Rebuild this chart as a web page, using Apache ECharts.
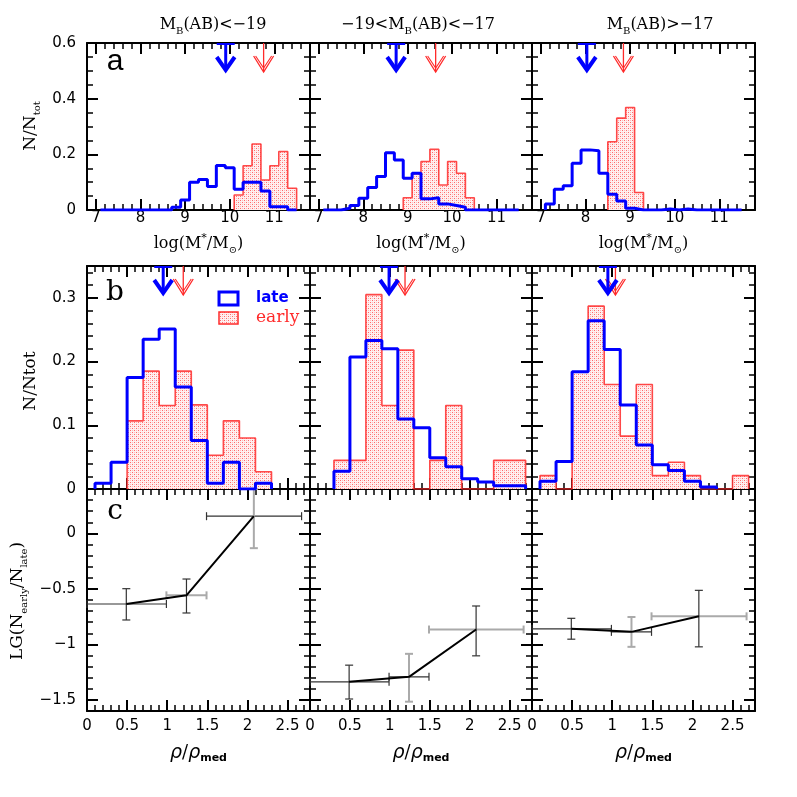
<!DOCTYPE html>
<html><head><meta charset="utf-8">
<script src="https://cdn.jsdelivr.net/npm/echarts@6/dist/echarts.min.js"></script>
<style>html,body{margin:0;padding:0;background:#fff}#c{width:797px;height:797px}</style>
</head><body><div id="c"></div>
<script>
// ---------- data ----------
const massEdges = [7.1,7.3,7.5,7.7,7.9,8.1,8.3,8.5,8.7,8.9,9.1,9.3,9.5,9.7,9.9,10.1,10.3,10.5,10.7,10.9,11.1,11.3,11.5];
const massTicks = [7,8,9,10,11];
const fracTicksA = [0,0.2,0.4,0.6];
const a1Late  = [0,0,0,0,0,0,0,0,0.010,0.036,0.100,0.110,0.084,0.160,0.152,0.075,0.100,0.100,0.068,0.012,0.012,0];
const a1Early = [0,0,0,0,0,0,0,0,0,0,0,0,0,0,0,0.054,0.159,0.237,0.108,0.159,0.210,0.078];
const a2Late  = [0,0,0.006,0.016,0.042,0.081,0.120,0.206,0.180,0.114,0.132,0.040,0.044,0.022,0.016,0.010,0,0,0,0,0,0];
const a2Early = [0,0,0,0,0,0,0,0,0,0.044,0.130,0.174,0.218,0.090,0.174,0.132,0.044,0,0,0,0,0];
const a3Late  = [0.022,0.075,0.087,0.168,0.216,0.213,0.132,0.057,0.032,0.006,0,0,0,0.004,0,0.004,0,0,0,0,0,0];
const a3Early = [0,0,0,0,0,0,0,0.245,0.330,0.368,0.063,0,0,0,0,0,0,0,0,0,0,0];
const aLateArrows  = [9.91, 8.74, 8.03];
const aEarlyArrows = [10.76, 9.63, 8.85];

const densEdges = [0.1,0.3,0.5,0.7,0.9,1.1,1.3,1.5,1.7,1.9,2.1,2.3,2.5,2.7];
const densTicks = [0,0.5,1,1.5,2,2.5];
const fracTicksB = [0,0.1,0.2,0.3];
const b1Late  = [0.009,0.042,0.175,0.235,0.251,0.160,0.076,0.009,0.042,0,0.009,0,0];
const b1Early = [0,0,0.107,0.185,0.131,0.185,0.132,0.053,0.107,0.080,0.027,0,0];
const b2Late  = [0,0.028,0.207,0.233,0.220,0.110,0.096,0.049,0.035,0.016,0.011,0.005,0.005];
const b2Early = [0,0.045,0.045,0.305,0.131,0.218,0,0.045,0.131,0,0,0.045,0.045];
const b3Late  = [0.012,0.043,0.184,0.264,0.219,0.132,0.069,0.038,0.029,0.012,0.003,0,0];
const b3Early = [0.021,0,0.184,0.287,0.164,0.083,0.164,0.021,0.042,0.021,0,0,0.021];
const bLateArrows  = [0.95, 0.99, 0.946];
const bEarlyArrows = [1.20, 1.19, 1.04];

const ratioTicks = [0,-0.5,-1,-1.5];
const densCenters = [0.49, 1.24, 2.08];
const densBinLo = [0, 0.99, 1.49];
const densBinHi = [0.99, 1.49, 2.675];
const c1Ratio = [-0.636, -0.558, 0.155];
const c1Lo    = [-0.780, -0.717, -0.133];
const c1Hi    = [-0.498, -0.411, 0.400];
const c2Ratio = [-1.337, -1.292, -0.866];
const c2Lo    = [-1.492, -1.516, -1.103];
const c2Hi    = [-1.187, -1.085, -0.654];
const c3Ratio = [-0.860, -0.887, -0.747];
const c3Lo    = [-0.953, -1.022, -1.022];
const c3Hi    = [-0.765, -0.753, -0.513];

// ---------- styling / layout ----------
const colLeft = [87, 310, 532], colW = [223, 222, 223];
const rowTop = [43, 266, 489], rowH = [167, 223, 222];
const BLUE = '#0000ff', RED = '#ff2a2a';
const DARK = '#333333', LIGHT = '#aaaaaa';
const errXShade = [[0,1,0],[0,0,1],[0,0,1]];
const errYShade = [[0,0,1],[0,1,0],[0,1,0]];

function makePattern(){
  const c = document.createElement('canvas'); c.width = 4; c.height = 4;
  const ctx = c.getContext('2d');
  ctx.fillStyle = '#fff0f0'; ctx.fillRect(0,0,4,4);
  ctx.fillStyle = '#ff6a6a'; ctx.fillRect(0,0,1,1); ctx.fillRect(2,2,1,1);
  ctx.fillStyle = '#ffbcbc'; ctx.fillRect(2,0,1,1); ctx.fillRect(0,2,1,1);
  return c;
}
const pattern = {image: makePattern(), repeat: 'repeat'};

const fmt = v => (v < 0 ? '\u2212' + String(-v) : String(v));

const grids = [], xAxes = [], yAxes = [], series = [];
const rowSpec = [
  {x:[6.8,11.8], xMinor:0.2, xMajor:massTicks, y:[0,0.6], yMinor:0.05, yMajor:fracTicksA, xLab:true, xMargin:1},
  {x:[0,2.78], xMinor:0.1, xMajor:densTicks, y:[0,0.35], yMinor:0.02, yMajor:fracTicksB, xLab:false, xMargin:8},
  {x:[0,2.78], xMinor:0.1, xMajor:densTicks, y:[-1.6,0.4], yMinor:0.1, yMajor:ratioTicks, xLab:true, xMargin:8}
];

function makeAxes(list, g, dim, range, minorStep, major, showLab, margin){
  const pos = dim === 'x' ? ['bottom','top'] : ['left','right'];
  pos.forEach((p, k) => {
    list.push({
      type:'value', gridIndex:g, position:p, min:range[0], max:range[1], offset:0,
      splitLine:{show:false},
      axisLine:{show:true, onZero:false, lineStyle:{color:'#000', width:2}},
      axisTick:{show:true, inside:true, length:11, customValues:major, lineStyle:{color:'#000', width:2}},
      axisLabel:{show: showLab && k === 0, customValues:major, margin:margin, formatter:fmt,
        fontFamily:'DejaVu Sans', fontSize:15, color:'#000'}
    });
    list.push({
      type:'value', gridIndex:g, position:p, min:range[0], max:range[1], interval:minorStep, offset:0,
      splitLine:{show:false},
      axisLine:{show:false, onZero:false},
      axisTick:{show:true, inside:true, length:6, lineStyle:{color:'#000', width:1.5}},
      axisLabel:{show:false}
    });
  });
}

for (let r = 0; r < 3; r++) {
  for (let c = 0; c < 3; c++) {
    const g = r*3 + c, s = rowSpec[r];
    grids.push({left:colLeft[c], top:rowTop[r], width:colW[c], height:rowH[r], containLabel:false});
    makeAxes(xAxes, g, 'x', s.x, s.xMinor, s.xMajor, s.xLab, s.xMargin);
    makeAxes(yAxes, g, 'y', s.y, s.yMinor, s.yMajor, c === 0, 11);
  }
}
const ax = g => ({xAxisIndex: g*4, yAxisIndex: g*4});

function stepData(edges, vals, trim){
  let i0 = 0, i1 = vals.length - 1;
  if (trim) { while (i0 < vals.length && vals[i0] === 0) i0++; while (i1 >= 0 && vals[i1] === 0) i1--; }
  const d = [[edges[i0], 0]];
  for (let i = i0; i <= i1; i++) d.push([edges[i], vals[i]]);
  d.push([edges[i1+1], 0]);
  return d;
}
function histEarly(g, edges, vals){
  series.push(Object.assign({type:'line', step:'end', symbol:'none', z:2, silent:true,
    data: stepData(edges, vals, true),
    lineStyle:{color:RED, width:1.6, opacity:0.85},
    areaStyle:{color:pattern, opacity:1, origin:0}}, ax(g)));
}
function histLate(g, edges, vals, trim){
  series.push(Object.assign({type:'line', step:'end', symbol:'none', z:3, silent:true,
    data: stepData(edges, vals, trim),
    lineStyle:{color:BLUE, width:3}}, ax(g)));
}
function arrows(g, xLate, xEarly){
  series.push(Object.assign({type:'custom', z:5, silent:true, data:[[xLate, 0]], encode:{x:0, y:1},
    renderItem:(params, api) => {
      const px = api.coord([api.value(0), 0])[0], top = params.coordSys.y, tip = top + 29;
      return {type:'group', children:[
        {type:'line', shape:{x1:px-9, y1:top+1, x2:px+9, y2:top+1}, style:{stroke:BLUE, lineWidth:2}},
        {type:'line', shape:{x1:px, y1:top, x2:px, y2:tip-3}, style:{stroke:BLUE, lineWidth:3}},
        {type:'polyline', shape:{points:[[px-9, tip-15],[px, tip-2],[px+9, tip-15]]}, style:{stroke:BLUE, lineWidth:4, fill:null, lineJoin:'miter'}}
      ]};
    }}, ax(g)));
  series.push(Object.assign({type:'custom', z:4, silent:true, data:[[xEarly, 0]], encode:{x:0, y:1},
    renderItem:(params, api) => {
      const px = api.coord([api.value(0), 0])[0], top = params.coordSys.y, tip = top + 29;
      return {type:'group', children:[
        {type:'line', shape:{x1:px, y1:top, x2:px, y2:tip}, style:{stroke:RED, lineWidth:1.3}},
        {type:'polyline', shape:{points:[[px-10, tip-16],[px, tip],[px+10, tip-16]]}, style:{stroke:RED, lineWidth:1.3, fill:null}},
        {type:'polyline', shape:{points:[[px-8, tip-16],[px, tip-4],[px+8, tip-16]]}, style:{stroke:RED, lineWidth:1.1, fill:null}}
      ]};
    }}, ax(g)));
}

const aEarly = [a1Early, a2Early, a3Early], aLate = [a1Late, a2Late, a3Late];
const bEarly = [b1Early, b2Early, b3Early], bLate = [b1Late, b2Late, b3Late];
for (let c = 0; c < 3; c++) {
  histEarly(c, massEdges, aEarly[c]);
  histLate(c, massEdges, aLate[c], false);
  arrows(c, aLateArrows[c], aEarlyArrows[c]);
  histEarly(3+c, densEdges, bEarly[c]);
  histLate(3+c, densEdges, bLate[c], true);
  arrows(3+c, bLateArrows[c], bEarlyArrows[c]);
}
const cRatio = [c1Ratio, c2Ratio, c3Ratio], cLo = [c1Lo, c2Lo, c3Lo], cHi = [c1Hi, c2Hi, c3Hi];
for (let c = 0; c < 3; c++) {
  const g = 6 + c;
  const errData = densCenters.map((x, i) => [x, cRatio[c][i], densBinLo[i], densBinHi[i], cLo[c][i], cHi[c][i]]);
  series.push(Object.assign({type:'custom', z:3, silent:true, data:errData,
    encode:{x:[0,2,3], y:[1,4,5]},
    renderItem:(params, api) => {
      const i = params.dataIndex;
      const x = api.value(0), y = api.value(1);
      const pL = api.coord([api.value(2), y]), pH = api.coord([api.value(3), y]);
      const qL = api.coord([x, api.value(4)]), qH = api.coord([x, api.value(5)]);
      const xs = errXShade[c][i] ? {stroke:LIGHT, lineWidth:2} : {stroke:DARK, lineWidth:1.2};
      const ys = errYShade[c][i] ? {stroke:LIGHT, lineWidth:2} : {stroke:DARK, lineWidth:1.2};
      return {type:'group', children:[
        {type:'line', shape:{x1:pL[0], y1:pL[1], x2:pH[0], y2:pH[1]}, style:xs},
        {type:'line', shape:{x1:pL[0], y1:pL[1]-4, x2:pL[0], y2:pL[1]+4}, style:xs},
        {type:'line', shape:{x1:pH[0], y1:pH[1]-4, x2:pH[0], y2:pH[1]+4}, style:xs},
        {type:'line', shape:{x1:qL[0], y1:qL[1], x2:qH[0], y2:qH[1]}, style:ys},
        {type:'line', shape:{x1:qL[0]-4, y1:qL[1], x2:qL[0]+4, y2:qL[1]}, style:ys},
        {type:'line', shape:{x1:qH[0]-4, y1:qH[1], x2:qH[0]+4, y2:qH[1]}, style:ys}
      ]};
    }}, ax(g)));
  series.push(Object.assign({type:'line', symbol:'none', z:4, silent:true,
    data: densCenters.map((x, i) => [x, cRatio[c][i]]),
    lineStyle:{color:'#000', width:2}}, ax(g)));
}

// ---------- text ----------
const subS = {fontSize:10, lineHeight:10, verticalAlign:'bottom', fontFamily:'DejaVu Serif'};
const supS = {fontSize:11, lineHeight:10, verticalAlign:'top', fontFamily:'DejaVu Serif'};
function txt(x, y, text, opts){
  return Object.assign({type:'text', x:x, y:y, silent:true,
    style:Object.assign({text:text, align:'center', verticalAlign:'middle', fill:'#000',
      fontFamily:'DejaVu Serif', fontSize:16, lineHeight:22, rich:{s:subS, u:supS}}, opts && opts.style)},
    opts && opts.el);
}
const graphic = [
  txt(213, 25, 'M{s|B}(AB)<\u221219'),
  txt(418, 25, '\u221219<M{s|B}(AB)<\u221217'),
  txt(660, 25, 'M{s|B}(AB)>\u221217'),
  txt(198.5, 244, 'log(M{u|*}/M{s|\u2299})'),
  txt(421, 244, 'log(M{u|*}/M{s|\u2299})'),
  txt(643.5, 244, 'log(M{u|*}/M{s|\u2299})'),
  txt(31, 126, 'N/N{s|tot}', {el:{rotation:Math.PI/2}, style:{fontSize:17}}),
  txt(31, 381, 'N/Ntot', {el:{rotation:Math.PI/2}, style:{fontSize:17}}),
  txt(18, 601, 'LG(N{s|early}/N{s|late})', {el:{rotation:Math.PI/2}, style:{fontSize:17}}),
  txt(115, 62, 'a', {style:{fontFamily:'Liberation Sans', fontSize:30, lineHeight:34}}),
  txt(115, 293, 'b', {style:{fontFamily:'DejaVu Serif', fontSize:28, lineHeight:32}}),
  txt(115, 512, 'c', {style:{fontFamily:'DejaVu Serif', fontSize:28, lineHeight:32}}),
  {type:'rect', shape:{x:219, y:292, width:19, height:13}, style:{fill:null, stroke:BLUE, lineWidth:3}, silent:true},
  {type:'rect', shape:{x:219, y:312, width:19, height:12}, style:{fill:pattern, stroke:RED, lineWidth:1.5}, silent:true},
  txt(256, 298, 'late', {style:{align:'left', fill:BLUE, fontFamily:'DejaVu Sans', fontWeight:'bold', fontSize:15}}),
  txt(256, 318, 'early', {style:{align:'left', fill:RED, fontFamily:'DejaVu Serif', fontSize:17}})
];
[198.5, 421, 643.5].forEach(x => graphic.push(txt(x, 753, '{r|\u03c1}/{r|\u03c1}{m|med}', {style:{fontSize:18, rich:{
  r:{fontFamily:'DejaVu Sans', fontStyle:'italic', fontSize:19, lineHeight:22},
  m:{fontFamily:'DejaVu Sans', fontWeight:'bold', fontSize:11, lineHeight:10, verticalAlign:'bottom'}}}})));

const chart = echarts.init(document.getElementById('c'), null, {renderer:'canvas'});
chart.setOption({
  animation:false, backgroundColor:'#fff',
  grid:grids, xAxis:xAxes, yAxis:yAxes, series:series, graphic:graphic
});
</script></body></html>
